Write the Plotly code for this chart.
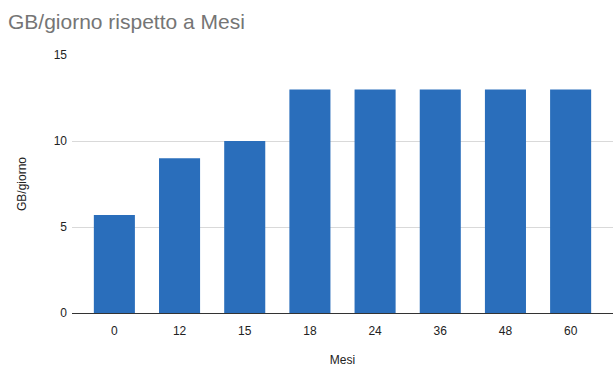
import plotly.graph_objects as go

# Months and corresponding GB per day
mesi = ["0", "12", "15", "18", "24", "36", "48", "60"]
gb_giorno = [5.7, 9, 10, 13, 13, 13, 13, 13]

y_ticks = [0, 5, 10, 15]

fig = go.Figure(
    go.Bar(
        x=mesi,
        y=gb_giorno,
        marker=dict(color="#2a6ebb", line=dict(width=0)),
        width=0.63,
    )
)

fig.update_layout(
    width=614,
    height=367,
    margin=dict(l=72, r=1, t=55, b=54),
    paper_bgcolor="white",
    plot_bgcolor="white",
    font=dict(family="Liberation Sans, Arial, sans-serif", size=12, color="#222222"),
    title=dict(
        text="GB/giorno rispetto a Mesi",
        x=0.013,
        xanchor="left",
        y=0.94,
        yanchor="middle",
        font=dict(size=21, color="#757575"),
    ),
    showlegend=False,
)

fig.update_xaxes(
    type="category",
    range=[-0.65, 7.65],
    title=dict(text="Mesi", font=dict(size=12, color="#222222"), standoff=20),
    showgrid=False,
    showline=True,
    linecolor="#333333",
    linewidth=1,
    ticks="",
    ticklabelstandoff=7,
    tickfont=dict(size=12, color="#222222"),
)

fig.update_yaxes(
    range=[0, 15],
    tickvals=y_ticks,
    title=dict(text="GB/giorno", font=dict(size=12, color="#222222"), standoff=24),
    showgrid=True,
    gridcolor="#d9d9d9",
    gridwidth=1,
    zeroline=False,
    showline=False,
    ticks="",
    ticklabelstandoff=4,
    tickfont=dict(size=12, color="#222222"),
)

fig.write_html("out.html")
